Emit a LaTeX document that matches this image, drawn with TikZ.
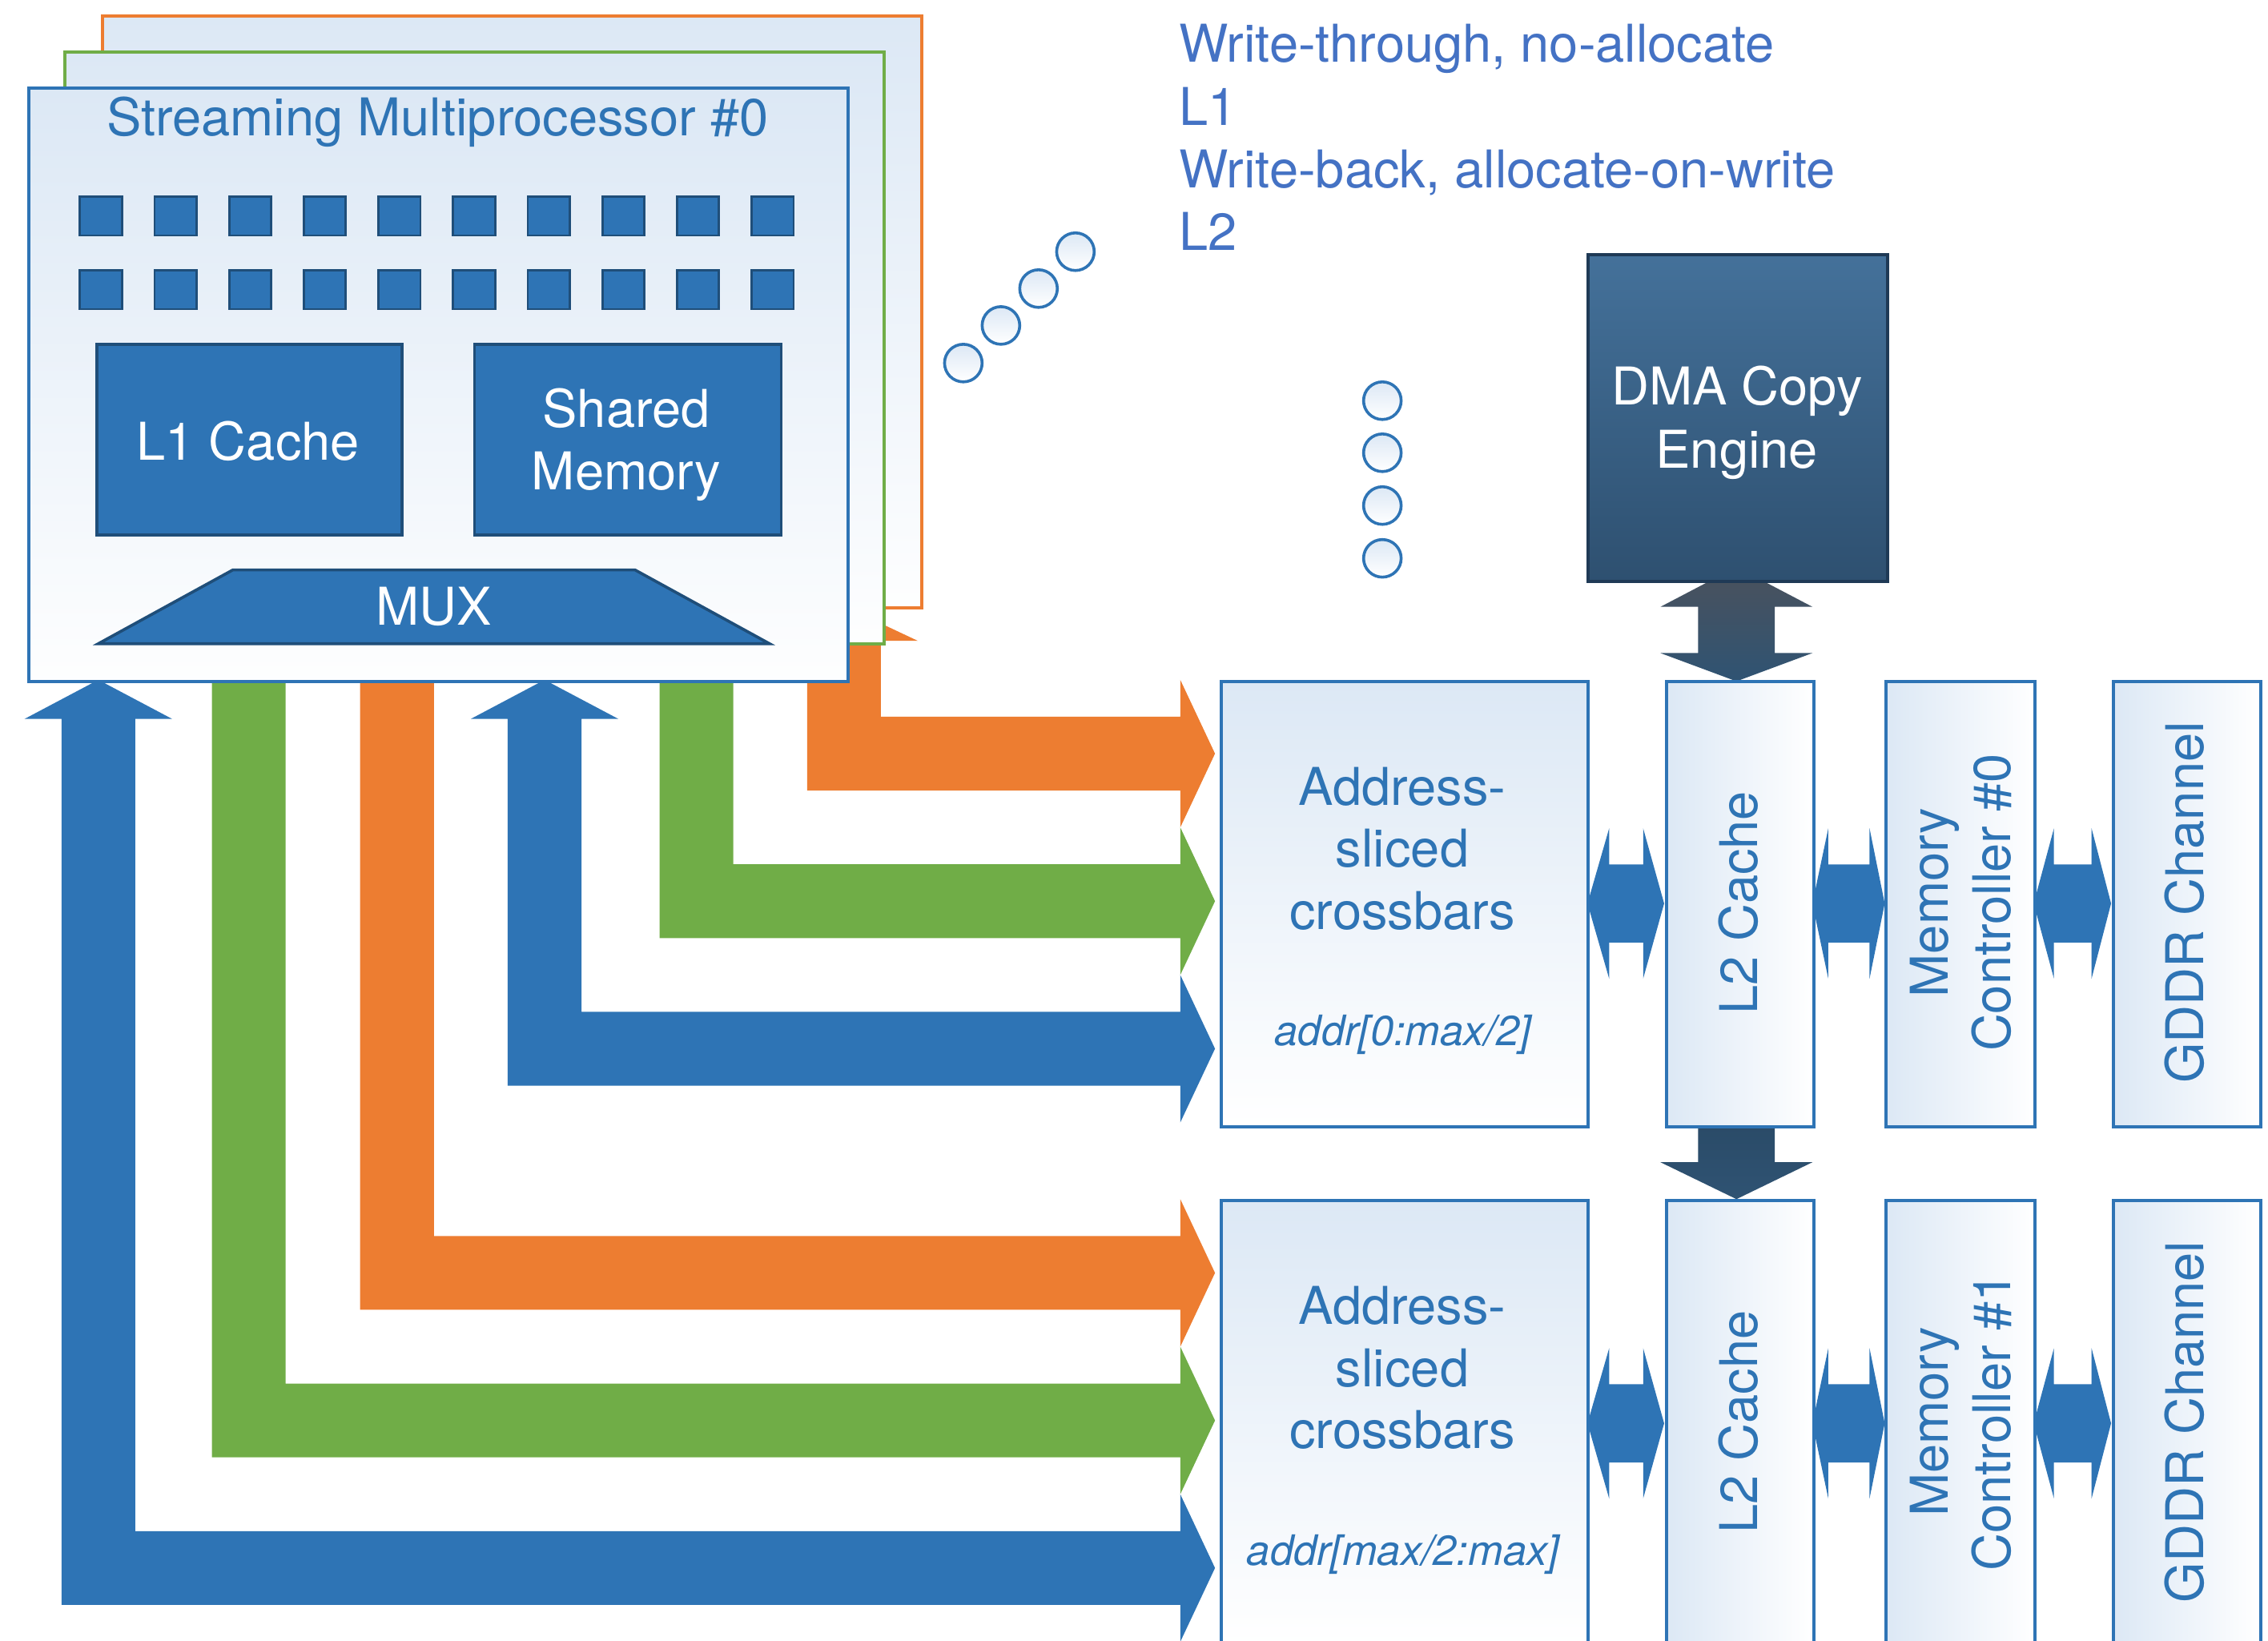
\documentclass[tikz,border=0pt]{standalone}
\usepackage{fontspec}
\setmainfont{TeX Gyre Heros}
\definecolor{cblue}{HTML}{2E74B5}
\definecolor{cdark}{HTML}{1F4E79}
\definecolor{cgreen}{HTML}{70AD47}
\definecolor{corange}{HTML}{ED7D31}
\definecolor{ctext}{HTML}{4472C4}
\definecolor{clight}{HTML}{DCE8F5}
\definecolor{dmatop}{HTML}{44719A}
\definecolor{dmabot}{HTML}{2E5070}
\definecolor{dmaline}{HTML}{1F3A56}
\definecolor{arrtop}{HTML}{4B525C}
\definecolor{arrbot}{HTML}{2F5373}
\newcommand{\lshape}[5]{%
  \fill[#1] (#2,#4) -- (#2+51,#4+#5) -- (#2+25.5,#4+#5) -- (#2+25.5,#3-25.5)
   -- (816,#3-25.5) -- (816,#3-51) -- (840,#3) -- (816,#3+51) -- (816,#3+25.5)
   -- (#2-25.5,#3+25.5) -- (#2-25.5,#4+#5) -- (#2-51,#4+#5) -- cycle;}
\newcommand{\hdarrow}[5]{%
  \fill[cblue] (#1,#5) -- (#2,#5-52) -- (#2,#5-27) -- (#3,#5-27) -- (#3,#5-52)
   -- (#4,#5) -- (#3,#5+52) -- (#3,#5+27) -- (#2,#5+27) -- (#2,#5+52) -- cycle;}
\tikzset{
  big/.style={font=\fontsize{36}{43.5}\selectfont, inner sep=0pt},
  small/.style={font=\fontsize{29}{34}\selectfont\itshape, inner sep=0pt},
  smbox/.style={top color=clight, bottom color=white!96!clight, line width=2.2pt,
     anchor=north west, inner sep=0pt, minimum width=566pt},
  sq/.style={fill=cblue, draw=cdark, line width=1.5pt, anchor=north west,
     minimum width=29pt, minimum height=27pt, inner sep=0pt},
  darkbox/.style={fill=cblue, draw=cdark, line width=2pt, anchor=north west, inner sep=0pt},
  xbox/.style={top color=clight, bottom color=white, draw=cblue, line width=2.2pt,
     anchor=north west, inner sep=0pt, minimum width=254pt, minimum height=308pt},
  nbox/.style={left color=clight, right color=white, draw=cblue, line width=2.2pt,
     anchor=north west, inner sep=0pt, minimum width=102pt, minimum height=308pt},
  dotc/.style={circle, draw=cblue, line width=2pt, top color=clight, bottom color=white,
     minimum size=26pt, inner sep=0pt},
}
\begin{document}
\begin{tikzpicture}[x=1pt,y=-1pt]
\useasboundingbox (0,0) rectangle (1568,1134);
\clip (0,0) rectangle (1568,1134);

% L-shaped arrows
\lshape{corange}{583.5}{521}{419}{24}
\lshape{cgreen}{481.5}{623}{443}{25}
\lshape{cblue}{376.5}{725}{470}{27}
\lshape{corange}{274.5}{880}{419}{24}
\lshape{cgreen}{172}{982}{443}{25}
\lshape{cblue}{68}{1084}{470}{27}

% SM stack
\node[smbox, draw=corange, minimum height=409pt] (sm2) at (70,10) {};
\node[smbox, draw=cgreen, minimum height=409pt] (sm1) at (44,35) {};
\node[smbox, draw=cblue, minimum height=410pt] (sm0) at (19,60) {};
\node[big, text=cblue, anchor=base] (smtitle) at (302.5,94) {Streaming Multiprocessor \#0};
\foreach \i in {0,...,9} {
  \node[sq] (sqa\i) at (54.5+51.6*\i,135) {};
  \node[sq] (sqb\i) at (54.5+51.6*\i,186) {};
}
\node[darkbox, minimum width=211pt, minimum height=132pt] (l1) at (66,237) {};
\node[darkbox, minimum width=212pt, minimum height=132pt] (shm) at (327,237) {};
\node[big, text=white, anchor=base] (l1t) at (171.5,318) {L1 Cache};
\node[big, text=white, anchor=base] (shmt1) at (433,295.6) {Shared};
\node[big, text=white, anchor=base] (shmt2) at (433,338.4) {Memory};
\filldraw[fill=cblue, draw=cdark, line width=2pt] (161,394) -- (439,394) -- (532,445) -- (68,445) -- cycle;
\node[big, text=white, anchor=base] (mux) at (300,432) {MUX};

% Legend text
\node[big, text=ctext, anchor=base west] (t1) at (815,43) {Write-through, no-allocate};
\node[big, text=ctext, anchor=base west] (t2) at (815,86.5) {L1};
\node[big, text=ctext, anchor=base west] (t3) at (815,130) {Write-back, allocate-on-write};
\node[big, text=ctext, anchor=base west] (t4) at (815,173) {L2};

% dots
\node[dotc] (d1) at (666,251) {};
\node[dotc] (d2) at (692,225) {};
\node[dotc] (d3) at (718,199.5) {};
\node[dotc] (d4) at (743.5,174) {};
\node[dotc] (v1) at (955.7,277) {};
\node[dotc] (v2) at (955.7,313) {};
\node[dotc] (v3) at (955.7,349.5) {};
\node[dotc] (v4) at (955.7,386) {};

% DMA double arrow
\shade[top color=arrtop, bottom color=arrbot] (1200.5,392) -- (1253,419.5) -- (1227,419.5) -- (1227,451.5)
  -- (1253,451.5) -- (1200.5,471) -- (1148,451.5) -- (1174,451.5) -- (1174,419.5) -- (1148,419.5) -- cycle;
\node[top color=dmatop, bottom color=dmabot, draw=dmaline, line width=2pt, anchor=north west,
  inner sep=0pt, minimum width=207pt, minimum height=226pt] (dma) at (1097,175) {};
\node[big, text=white, anchor=base] (dmat1) at (1200.8,279.7) {DMA Copy};
\node[big, text=white, anchor=base] (dmat2) at (1200.8,323.5) {Engine};

% L2 down arrow
\shade[top color=arrbot!90!black, bottom color=arrbot] (1174,777) -- (1227,777) -- (1227,803.5) -- (1253,803.5)
  -- (1200.5,829) -- (1148,803.5) -- (1174,803.5) -- cycle;

% horizontal double arrows
\hdarrow{1097.5}{1112.5}{1136}{1150.5}{624.6}
\hdarrow{1253}{1264}{1292.5}{1303}{624.6}
\hdarrow{1406}{1420}{1446}{1459.5}{624.6}
\hdarrow{1097.5}{1112.5}{1136}{1150.5}{984}
\hdarrow{1253}{1264}{1292.5}{1303}{984}
\hdarrow{1406}{1420}{1446}{1459.5}{984}

% Row 1
\node[xbox] (xb0) at (843,470) {};
\node[nbox] (l2a) at (1151,470) {};
\node[nbox, minimum width=103pt] (mc0) at (1303,470) {};
\node[nbox] (gd0) at (1460,470) {};
\node[big, text=cblue, anchor=base] (xb0a) at (969.5,556.6) {Address-};
\node[big, text=cblue, anchor=base] (xb0b) at (969.5,599.6) {sliced};
\node[big, text=cblue, anchor=base] (xb0c) at (969.5,642.4) {crossbars};
\node[small, text=cblue, anchor=base] (xb0d) at (970,723) {addr[0:max/2]};
\node[big, text=cblue, rotate=90] (l2at) at (1202,624) {L2 Cache};
\node[big, text=cblue, rotate=90, align=center] (mc0t) at (1355.5,624) {Memory\\Controller \#0};
\node[big, text=cblue, rotate=90] (gd0t) at (1510.5,624) {GDDR Channel};

% Row 2
\node[xbox] (xb1) at (843,829) {};
\node[nbox] (l2b) at (1151,829) {};
\node[nbox, minimum width=103pt] (mc1) at (1303,829) {};
\node[nbox] (gd1) at (1460,829) {};
\node[big, text=cblue, anchor=base] (xb1a) at (969.5,915.6) {Address-};
\node[big, text=cblue, anchor=base] (xb1b) at (969.5,958.6) {sliced};
\node[big, text=cblue, anchor=base] (xb1c) at (969.5,1001.4) {crossbars};
\node[small, text=cblue, anchor=base] (xb1d) at (970,1082) {addr[max/2:max]};
\node[big, text=cblue, rotate=90] (l2bt) at (1202,983) {L2 Cache};
\node[big, text=cblue, rotate=90, align=center] (mc1t) at (1355.5,983) {Memory\\Controller \#1};
\node[big, text=cblue, rotate=90] (gd1t) at (1510.5,983) {GDDR Channel};
\end{tikzpicture}
\end{document}
